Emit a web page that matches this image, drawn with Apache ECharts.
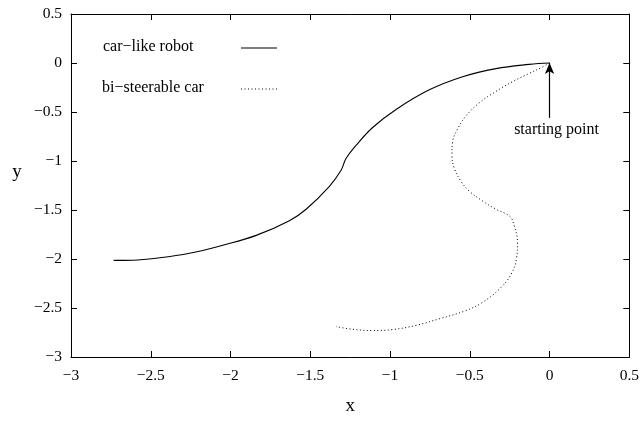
<!DOCTYPE html>
<html>
<head>
<meta charset="utf-8">
<script src="https://cdn.jsdelivr.net/npm/echarts@6/dist/echarts.min.js"></script>
<style>html,body{margin:0;padding:0;background:#fff}#c{width:642px;height:421px}</style>
</head>
<body>
<div id="c"></div>
<script>
const seriesNames = ['car\u2212like robot', 'bi\u2212steerable car'];
const xTicks = [-3, -2.5, -2, -1.5, -1, -0.5, 0, 0.5];
const yTicks = [-3, -2.5, -2, -1.5, -1, -0.5, 0, 0.5];
const carLikeX = [0, -0.128, -0.336, -0.545, -0.754, -0.962, -1.109, -1.213, -1.276, -1.307, -1.380, -1.526, -1.631, -1.839, -2.048, -2.257, -2.465, -2.612, -2.733];
const carLikeY = [0, -0.014, -0.057, -0.140, -0.274, -0.474, -0.658, -0.841, -0.975, -1.095, -1.258, -1.492, -1.609, -1.759, -1.859, -1.942, -1.992, -2.012, -2.014];
const biX = [0, -0.044, -0.128, -0.232, -0.336, -0.441, -0.524, -0.577, -0.608, -0.612, -0.597, -0.555, -0.503, -0.420, -0.336, -0.249, -0.222, -0.201, -0.207, -0.242, -0.316, -0.420, -0.524, -0.691, -0.837, -0.984, -1.109, -1.234, -1.338];
const biY = [0, -0.040, -0.107, -0.190, -0.290, -0.407, -0.541, -0.675, -0.808, -0.941, -1.075, -1.208, -1.308, -1.408, -1.492, -1.565, -1.659, -1.826, -1.992, -2.159, -2.309, -2.442, -2.526, -2.610, -2.677, -2.720, -2.730, -2.717, -2.690];
const arrowFrom = [0, -0.56];
const arrowTo = [0, 0];
const annotationText = 'starting point';
const annotationAt = [0.044, -0.68];
const xName = 'x';
const yName = 'y';

const font = 'Liberation Serif';
const fmt = v => String(v).replace('-', '\u2212');
const pair = (xs, ys) => xs.map((x, i) => [x, ys[i]]);

const axisBase = {
  type: 'value', min: -3, max: 0.5, interval: 0.5,
  splitLine: { show: false },
  axisLine: { show: true, onZero: false, lineStyle: { color: '#000', width: 1 } },
  axisTick: { show: true, inside: true, length: 6, lineStyle: { color: '#000' } },
};

const legendText = { fontFamily: font, fontSize: 16, fill: '#000' };

const chart = echarts.init(document.getElementById('c'));
chart.setOption({
  animation: false,
  backgroundColor: '#fff',
  grid: { left: 71, right: 12, top: 14, bottom: 57, containLabel: false },
  xAxis: [
    Object.assign({}, axisBase, {
      position: 'bottom',
      name: xName, nameLocation: 'middle', nameGap: 40,
      nameTextStyle: { fontFamily: font, fontSize: 19, color: '#000' },
      axisLabel: { formatter: fmt, fontFamily: font, fontSize: 15.5, color: '#000', margin: 11 }
    }),
    Object.assign({}, axisBase, { position: 'top', axisLabel: { show: false } })
  ],
  yAxis: [
    Object.assign({}, axisBase, {
      position: 'left',
      axisLabel: { formatter: fmt, fontFamily: font, fontSize: 15.5, color: '#000', margin: 9 }
    }),
    Object.assign({}, axisBase, { position: 'right', axisLabel: { show: false } })
  ],
  graphic: [
    { type: 'text', x: 17, y: 172, style: { text: yName, fontFamily: font, fontSize: 19, fill: '#000', align: 'center', verticalAlign: 'middle' } },
    { type: 'text', left: 103, top: 39, style: Object.assign({ text: seriesNames[0] }, legendText) },
    { type: 'line', shape: { x1: 241, y1: 48, x2: 277, y2: 48 }, style: { stroke: '#000', lineWidth: 1.2 } },
    { type: 'text', left: 102, top: 80, style: Object.assign({ text: seriesNames[1] }, legendText) },
    { type: 'line', shape: { x1: 241, y1: 89, x2: 277, y2: 89 }, style: { stroke: '#000', lineWidth: 1, lineDash: [1, 2.5] } }
  ],
  series: [
    {
      name: seriesNames[0], type: 'line', symbol: 'none', smooth: 0.4,
      data: pair(carLikeX, carLikeY),
      lineStyle: { color: '#000', width: 1.1 }, itemStyle: { color: '#000' },
      markLine: {
        silent: true, symbol: ['none', 'arrow'], symbolSize: [7, 11],
        lineStyle: { color: '#000', width: 1.2, type: 'solid' },
        label: { show: false },
        data: [[{ coord: arrowFrom }, { coord: arrowTo }]]
      },
      markPoint: {
        silent: true, symbol: 'circle', symbolSize: 0,
        label: { show: true, position: 'inside', formatter: annotationText, fontFamily: font, fontSize: 16, color: '#000' },
        data: [{ coord: annotationAt }]
      }
    },
    {
      name: seriesNames[1], type: 'line', symbol: 'none', smooth: 0.4,
      data: pair(biX, biY),
      lineStyle: { color: '#000', width: 1, type: [1, 2.5] }, itemStyle: { color: '#000' }
    }
  ]
});
</script>
</body>
</html>
